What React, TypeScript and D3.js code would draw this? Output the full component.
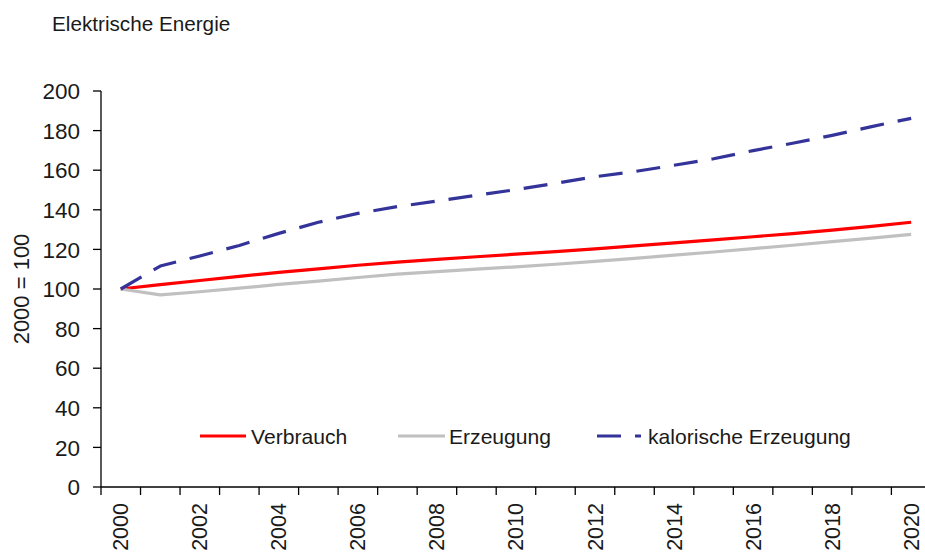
import React from "react";
import * as d3 from "d3";

const years = d3.range(2000, 2021).map(String);
const verbrauch = [100, 102.2, 104.3, 106.4, 108.4, 110.2, 112, 113.6, 115, 116.3, 117.6, 118.9, 120.3, 121.8, 123.3, 124.8, 126.4, 128, 129.7, 131.6, 133.7];
const erzeugung = [100, 97, 98.6, 100.4, 102.3, 104, 105.8, 107.5, 108.8, 110, 111.2, 112.5, 114, 115.5, 117.1, 118.7, 120.4, 122.1, 123.9, 125.7, 127.6];
const kalorisch = [100, 111.6, 116.7, 122, 128.1, 133.7, 138.2, 141.6, 144.4, 147.3, 150.2, 153.4, 156.7, 159.3, 162.5, 165.8, 169.9, 173.6, 177.6, 182, 186.2];
const yTicks = [0, 20, 40, 60, 80, 100, 120, 140, 160, 180, 200];
const xLabels = ["2000", "2002", "2004", "2006", "2008", "2010", "2012", "2014", "2016", "2018", "2020"];
const seriesNames = ["Verbrauch", "Erzeugung", "kalorische Erzeugung"];

const FONT = "'Liberation Sans', Arial, sans-serif";

export default function App() {
  const W = 925, H = 552;
  const left = 101, top = 91, bottom = 487;
  const step = 39.52;
  const x = d3.scaleBand<string>().domain(years).range([left, left + step * years.length]);
  const y = d3.scaleLinear().domain([0, 200]).range([bottom, top]);
  const cx = (yr: string) => (x(yr) as number) + x.bandwidth() / 2;
  const line = d3.line<number>().x((_, i) => cx(years[i])).y((d) => y(d));

  const series = [
    { name: seriesNames[0], data: verbrauch, color: "#ff0000", dash: undefined as string | undefined },
    { name: seriesNames[1], data: erzeugung, color: "#c0c0c0", dash: undefined },
    { name: seriesNames[2], data: kalorisch, color: "#333399", dash: "24 14" },
  ];
  const legend = [
    { x1: 200, x2: 246, tx: 251 },
    { x1: 398, x2: 445, tx: 449 },
    { x1: 597, x2: 641, tx: 648 },
  ];
  const tickXs = d3.range(years.length + 1).map((i) => left + i * x.step());

  return (
    <svg width={W} height={H} style={{ position: "absolute", left: 0, top: 0, background: "#fff" }} fontFamily={FONT}>
      <rect width={W} height={H} fill="#fff" />
      <text x={52} y={31} fontSize={20.7} fill="#1a1a1a">Elektrische Energie</text>
      {/* y axis */}
      <line x1={left} x2={left} y1={top} y2={bottom} stroke="#000" strokeWidth={1.3} />
      {yTicks.map((t) => (
        <g key={t}>
          <line x1={left - 8} x2={left} y1={y(t)} y2={y(t)} stroke="#000" strokeWidth={1.3} />
          <text x={80} y={y(t)} dy="0.36em" textAnchor="end" fontSize={22.5} fill="#1a1a1a">{t}</text>
        </g>
      ))}
      <text transform={`translate(29,289) rotate(-90)`} textAnchor="middle" fontSize={22} fill="#1a1a1a">2000 = 100</text>
      {/* x axis */}
      <line x1={left} x2={W} y1={bottom} y2={bottom} stroke="#000" strokeWidth={1.3} />
      {tickXs.map((tx, i) => (
        <line key={i} x1={tx} x2={tx} y1={bottom} y2={bottom + 8} stroke="#000" strokeWidth={1.3} />
      ))}
      {xLabels.map((l) => (
        <text key={l} transform={`translate(${cx(l) + 7.5},503) rotate(-90)`} textAnchor="end" fontSize={21.5} fill="#1a1a1a">{l}</text>
      ))}
      {/* lines */}
      {series.map((s) => (
        <path key={s.name} d={line(s.data) || ""} fill="none" stroke={s.color} strokeWidth={3.2} strokeDasharray={s.dash} strokeLinejoin="round" />
      ))}
      {/* legend */}
      {series.map((s, i) => (
        <g key={s.name}>
          <line x1={legend[i].x1} x2={legend[i].x2} y1={436} y2={436} stroke={s.color} strokeWidth={3.2} strokeDasharray={s.dash} />
          <text x={legend[i].tx} y={436} dy="0.36em" fontSize={21.1} fill="#1a1a1a">{s.name}</text>
        </g>
      ))}
    </svg>
  );
}
